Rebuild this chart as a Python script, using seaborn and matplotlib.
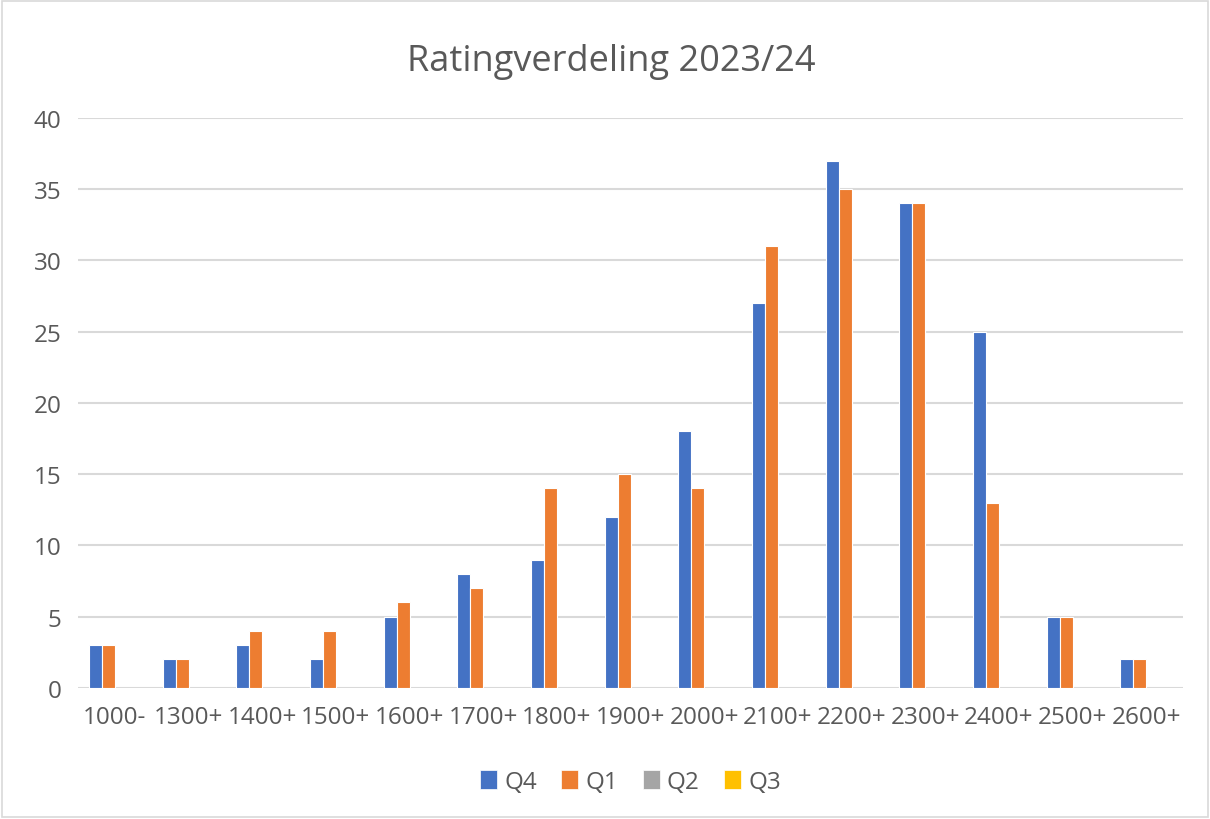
import matplotlib
matplotlib.use("Agg")
import matplotlib.pyplot as plt
import pandas as pd
import seaborn as sns
from matplotlib.patches import Patch, Rectangle

categories = ["1000-", "1300+", "1400+", "1500+", "1600+", "1700+", "1800+",
              "1900+", "2000+", "2100+", "2200+", "2300+", "2400+", "2500+", "2600+"]
q4 = [3, 2, 3, 2, 5, 8, 9, 12, 18, 27, 37, 34, 25, 5, 2]
q1 = [3, 2, 4, 4, 6, 7, 14, 15, 14, 31, 35, 34, 13, 5, 2]
q2 = [0] * len(categories)
q3 = [0] * len(categories)
series = ["Q4", "Q1", "Q2", "Q3"]
colors = ["#4472C4", "#ED7D31", "#A5A5A5", "#FFC000"]

df = pd.DataFrame({"rating": categories, "Q4": q4, "Q1": q1, "Q2": q2, "Q3": q3})
long = df.melt(id_vars="rating", var_name="kwartaal", value_name="aantal")

sns.set_style("white")
plt.rcParams["font.family"] = ["Open Sans", "DejaVu Sans"]
text_color = "#595959"

fig = plt.figure(figsize=(12.1, 8.2), dpi=100)
ax = fig.add_axes([0.0645, 0.1598, 0.9132, 0.6951])

sns.barplot(data=long, x="rating", y="aantal", hue="kwartaal",
            hue_order=series, order=categories, palette=colors, saturation=1,
            width=0.7, gap=0, edgecolor="white", linewidth=0.8,
            ax=ax, zorder=3, legend=False)

# empty series should not leave a white stripe on the baseline
for p in ax.patches:
    if p.get_height() == 0:
        p.set_visible(False)

ax.set_ylim(0, 40)
ax.set_xlim(-0.5, len(categories) - 0.5)
ax.set_yticks(range(0, 41, 5))
ax.yaxis.grid(True, color="#D9D9D9", linewidth=1.5, zorder=0)
ax.set_axisbelow(True)
for s in ax.spines.values():
    s.set_visible(False)
ax.tick_params(axis="both", length=0, labelsize=17.5, colors=text_color)
ax.tick_params(axis="x", pad=12)
ax.tick_params(axis="y", pad=12)
ax.set_xlabel("")
ax.set_ylabel("")

handles = [Patch(facecolor=c, edgecolor="white", linewidth=0.5, label=s)
           for s, c in zip(series, colors)]
fig.legend(handles=handles, loc="center", bbox_to_anchor=(0.521, 0.045),
           ncol=4, frameon=False, fontsize=17.5, labelcolor=text_color,
           handlelength=0.7, handleheight=0.8, handletextpad=0.3,
           columnspacing=1.0)

fig.text(0.505, 0.925, "Ratingverdeling 2023/24", ha="center", va="center",
         fontsize=26, color=text_color)

fig.patches.append(Rectangle((0.002, 0.002), 0.996, 0.996, transform=fig.transFigure,
                             fill=False, edgecolor="#D9D9D9", linewidth=1.2))

fig.savefig("out.png", dpi=100)
